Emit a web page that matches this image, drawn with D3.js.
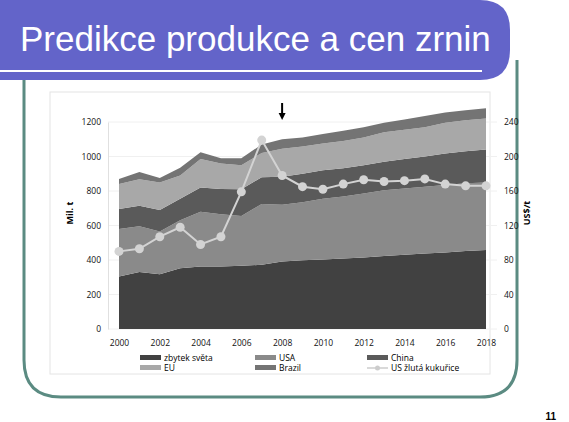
<!DOCTYPE html>
<html><head><meta charset="utf-8">
<script src="https://cdn.jsdelivr.net/npm/d3@7"></script>
<style>body{margin:0;background:#fff}svg{display:block}</style>
</head><body>
<svg id="c" width="569" height="422"></svg>
<script>
const years = d3.range(2000, 2019);
const rest   = [305,330,318,352,362,363,367,372,392,398,403,408,415,423,430,437,443,452,458];
const usa    = [275,265,247,278,318,302,288,353,328,337,352,360,370,382,385,388,392,393,392];
const china  = [115,120,125,125,140,147,155,155,162,165,165,164,165,165,170,175,183,185,190];
const eu     = [145,153,160,135,165,148,140,140,163,158,155,158,160,170,170,170,177,180,180];
const brazil = [30,42,25,45,40,30,40,50,55,52,55,60,60,55,60,65,60,58,60];
const price  = [90,93,107,118,98,107,159,219,178,165,162,168,173,171,172,174,168,166,166];
const seriesNames = ["zbytek světa","USA","China","EU","Brazil"];
const colors = ["#414141","#8a8a8a","#5a5a5a","#a8a8a8","#747474"];
const leftTicks = [0,200,400,600,800,1000,1200];
const rightTicks = [0,40,80,120,160,200,240];
const xTicks = [2000,2002,2004,2006,2008,2010,2012,2014,2016,2018];

const svg = d3.select("#c");
svg.append("path").attr("d","M24,80 L24,360 Q24,397 61,397 L480,397 Q517,397 517,360 L517,60")
  .attr("fill","none").attr("stroke","#5b8b82").attr("stroke-width",3);
svg.append("path").attr("d","M0,0 L480,0 Q510,0 510,30 L510,50 Q510,80 480,80 L0,80 Z").attr("fill","#6364c9");
svg.append("line").attr("x1",0).attr("x2",482).attr("y1",71).attr("y2",71).attr("stroke","#fff").attr("stroke-width",2);
svg.append("text").attr("x",20).attr("y",51).attr("fill","#fff").attr("font-family","Liberation Sans, Arial").attr("font-size",35).text("Predikce produkce a cen zrnin");
svg.append("rect").attr("x",50).attr("y",92).attr("width",440).attr("height",282).attr("fill","#fff").attr("stroke","#e4e4e4");

const x = d3.scaleLinear().domain([2000,2018]).range([119,486]);
const y = d3.scaleLinear().domain([0,1200]).range([329,122]);
const y2 = d3.scaleLinear().domain([0,240]).range([329,122]);
const g = svg.append("g");
leftTicks.forEach(t=>g.append("line").attr("x1",108).attr("x2",497).attr("y1",y(t)).attr("y2",y(t)).attr("stroke","#f0f0f0"));

const data = years.map((yr,i)=>({year:yr,"zbytek světa":rest[i],USA:usa[i],China:china[i],EU:eu[i],Brazil:brazil[i]}));
const stack = d3.stack().keys(seriesNames)(data);
const area = d3.area().x(d=>x(d.data.year)).y0(d=>y(d[0])).y1(d=>y(d[1]));
g.selectAll(".a").data(stack).join("path").attr("d",area).attr("fill",(d,i)=>colors[i]);

const font = "Open Sans, DejaVu Sans";
const ax = svg.append("g").attr("transform","translate(108,0)").call(d3.axisLeft(y).tickValues(leftTicks).tickFormat(d3.format("d")).tickSize(0).tickPadding(7));
const ax2 = svg.append("g").attr("transform","translate(497,0)").call(d3.axisRight(y2).tickValues(rightTicks).tickFormat(d3.format("d")).tickSize(0).tickPadding(7));
const axx = svg.append("g").attr("transform","translate(0,333)").call(d3.axisBottom(x).tickValues(xTicks).tickFormat(d3.format("d")).tickSize(0).tickPadding(7));
[ax,ax2,axx].forEach(a=>{a.select(".domain").attr("stroke","#e0e0e0");a.selectAll("text").attr("font-family",font).attr("font-size",8.5).attr("fill","#111");});
ax2.select(".domain").remove(); axx.select(".domain").remove();

const line = d3.line().x((d,i)=>x(years[i])).y(d=>y2(d));
svg.append("path").attr("d",line(price)).attr("fill","none").attr("stroke","#d3d3d3").attr("stroke-width",2);
svg.selectAll(".p").data(price).join("circle").attr("cx",(d,i)=>x(years[i])).attr("cy",d=>y2(d)).attr("r",4.5).attr("fill","#d3d3d3");

svg.append("text").attr("transform","translate(73,213) rotate(-90)").attr("text-anchor","middle").attr("font-family",font).attr("font-size",9).attr("font-weight","bold").text("Mil. t");
svg.append("text").attr("transform","translate(530,213) rotate(-90)").attr("text-anchor","middle").attr("font-family",font).attr("font-size",9).attr("font-weight","bold").text("US$/t");
svg.append("line").attr("x1",x(2008)).attr("x2",x(2008)).attr("y1",103).attr("y2",115).attr("stroke","#000").attr("stroke-width",2);
svg.append("path").attr("d",`M${x(2008)-3.5},113 L${x(2008)+3.5},113 L${x(2008)},120 Z`).attr("fill","#000");

const leg = [{n:"zbytek světa",c:colors[0],x:140,y:358},{n:"USA",c:colors[1],x:255,y:358},{n:"China",c:colors[2],x:367,y:358},
             {n:"EU",c:colors[3],x:140,y:368},{n:"Brazil",c:colors[4],x:255,y:368}];
leg.forEach(l=>{svg.append("rect").attr("x",l.x).attr("y",l.y-3).attr("width",21).attr("height",5).attr("fill",l.c);
  svg.append("text").attr("x",l.x+24).attr("y",l.y+3).attr("font-family",font).attr("font-size",8.5).text(l.n);});
svg.append("line").attr("x1",367).attr("x2",388).attr("y1",368).attr("y2",368).attr("stroke","#ccc").attr("stroke-width",1.5);
svg.append("circle").attr("cx",377.5).attr("cy",368).attr("r",2.5).attr("fill","#ccc");
svg.append("text").attr("x",391).attr("y",371).attr("font-family",font).attr("font-size",8.5).text("US žlutá kukuřice");
svg.append("text").attr("x",556).attr("y",420).attr("text-anchor","end").attr("font-family","Liberation Sans, Arial").attr("font-weight","bold").attr("font-size",10).text("11");
</script></body></html>
